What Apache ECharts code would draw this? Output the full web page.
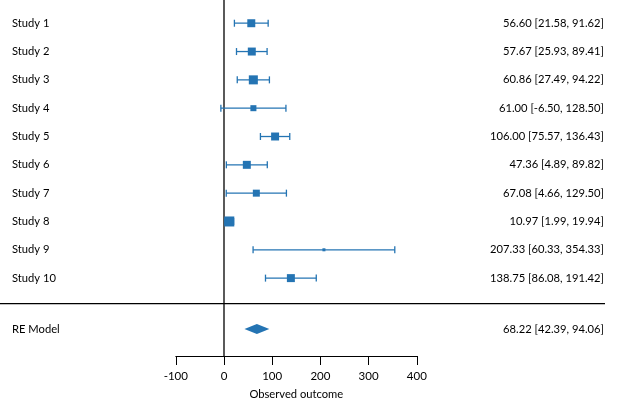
<!DOCTYPE html>
<html>
<head>
<meta charset="utf-8">
<script src="https://cdn.jsdelivr.net/npm/echarts@6/dist/echarts.min.js"></script>
<style>html,body{margin:0;padding:0;background:#fff}#c{width:624px;height:411px}</style>
</head>
<body>
<div id="c"></div>
<script>
const studies = ['Study 1','Study 2','Study 3','Study 4','Study 5','Study 6','Study 7','Study 8','Study 9','Study 10'];
const estimates = [56.60, 57.67, 60.86, 61.00, 106.00, 47.36, 67.08, 10.97, 207.33, 138.75];
const ciLower = [21.58, 25.93, 27.49, -6.50, 75.57, 4.89, 4.66, 1.99, 60.33, 86.08];
const ciUpper = [91.62, 89.41, 94.22, 128.50, 136.43, 89.82, 129.50, 19.94, 354.33, 191.42];
const weights = [11.4, 11.4, 12.9, 8.6, 11.4, 11.4, 10.0, 14.3, 4.3, 11.4];
const pooledLabel = 'RE Model';
const pooledValues = [68.22, 42.39, 94.06];
const xTicks = [-100, 0, 100, 200, 300, 400];
const xAxisName = 'Observed outcome';

const FONT = 'Lato';
const FS = 11.2;
const BLUE = '#2474b3';
const fmt = v => v.toFixed(2);
const ciText = (e, l, h) => fmt(e) + ' [' + fmt(l) + ', ' + fmt(h) + ']';

const SEP_ROW = 9.9, RE_ROW = 10.8;
const studyData = studies.map((s, i) => [i, estimates[i], ciLower[i], ciUpper[i], weights[i]]);

const chart = echarts.init(document.getElementById('c'), null, {renderer: 'canvas'});
chart.setOption({
  animation: false,
  grid: {left: 175.8, right: 207.2, top: 0, bottom: 55},
  xAxis: {
    type: 'value', min: xTicks[0], max: xTicks[xTicks.length - 1], interval: 100,
    name: xAxisName, nameLocation: 'middle', nameGap: 33,
    nameTextStyle: {fontFamily: FONT, fontSize: 11.2, color: '#000'},
    axisLine: {show: true, onZero: false, lineStyle: {color: '#000', width: 1}},
    axisTick: {show: true, length: 9, lineStyle: {color: '#000', width: 1}},
    axisLabel: {fontFamily: FONT, fontSize: 11.5, color: '#000', margin: 14},
    splitLine: {show: false}
  },
  yAxis: {type: 'value', inverse: true, min: -0.82, max: 11.75, show: false},
  series: [
    {
      type: 'custom',
      clip: false,
      data: [[0]],
      renderItem: (params, api) => {
        const top = api.coord([0, -0.82]);
        const bot = api.coord([0, 11.75]);
        const sepY = api.coord([0, SEP_ROW])[1];
        const reY = api.coord([0, RE_ROW])[1];
        const W = api.getWidth();
        const pe = api.coord([pooledValues[0], RE_ROW]);
        const pl = api.coord([pooledValues[1], RE_ROW]);
        const ph = api.coord([pooledValues[2], RE_ROW]);
        return {type: 'group', children: [
          {type: 'line', shape: {x1: top[0], y1: top[1], x2: bot[0], y2: bot[1]}, style: {stroke: '#000', lineWidth: 1.3}},
          {type: 'line', shape: {x1: 0, y1: sepY, x2: W - 19, y2: sepY}, style: {stroke: '#000', lineWidth: 1.2}},
          {type: 'text', x: 12, y: reY, style: {text: pooledLabel, fontFamily: FONT, fontSize: FS, fill: '#000', textVerticalAlign: 'middle', textAlign: 'left'}},
          {type: 'text', x: W - 20, y: reY, style: {text: ciText(pooledValues[0], pooledValues[1], pooledValues[2]), fontFamily: FONT, fontSize: FS, fill: '#000', textVerticalAlign: 'middle', textAlign: 'right'}},
          {type: 'polygon', shape: {points: [[pl[0], pe[1]], [pe[0], pe[1] - 5], [ph[0], pe[1]], [pe[0], pe[1] + 5]]}, style: {fill: BLUE}}
        ]};
      }
    },
    {
      type: 'custom',
      clip: false,
      data: studyData,
      renderItem: (params, api) => {
        const row = api.value(0);
        const e = api.coord([api.value(1), row]);
        const l = api.coord([api.value(2), row]);
        const h = api.coord([api.value(3), row]);
        const sz = api.value(4) * 0.7;
        const y = e[1];
        const W = api.getWidth();
        const i = params.dataIndex;
        return {type: 'group', children: [
          {type: 'line', shape: {x1: l[0], y1: y, x2: h[0], y2: y}, style: {stroke: BLUE, lineWidth: 1.3}},
          {type: 'line', shape: {x1: l[0], y1: y - 3.5, x2: l[0], y2: y + 3.5}, style: {stroke: BLUE, lineWidth: 1.3}},
          {type: 'line', shape: {x1: h[0], y1: y - 3.5, x2: h[0], y2: y + 3.5}, style: {stroke: BLUE, lineWidth: 1.3}},
          {type: 'rect', shape: {x: e[0] - sz / 2, y: y - sz / 2, width: sz, height: sz}, style: {fill: BLUE}},
          {type: 'text', x: 12, y: y, style: {text: studies[i], fontFamily: FONT, fontSize: FS, fill: '#000', textVerticalAlign: 'middle', textAlign: 'left'}},
          {type: 'text', x: W - 20, y: y, style: {text: ciText(estimates[i], ciLower[i], ciUpper[i]), fontFamily: FONT, fontSize: FS, fill: '#000', textVerticalAlign: 'middle', textAlign: 'right'}}
        ]};
      }
    }
  ]
});
</script>
</body>
</html>
